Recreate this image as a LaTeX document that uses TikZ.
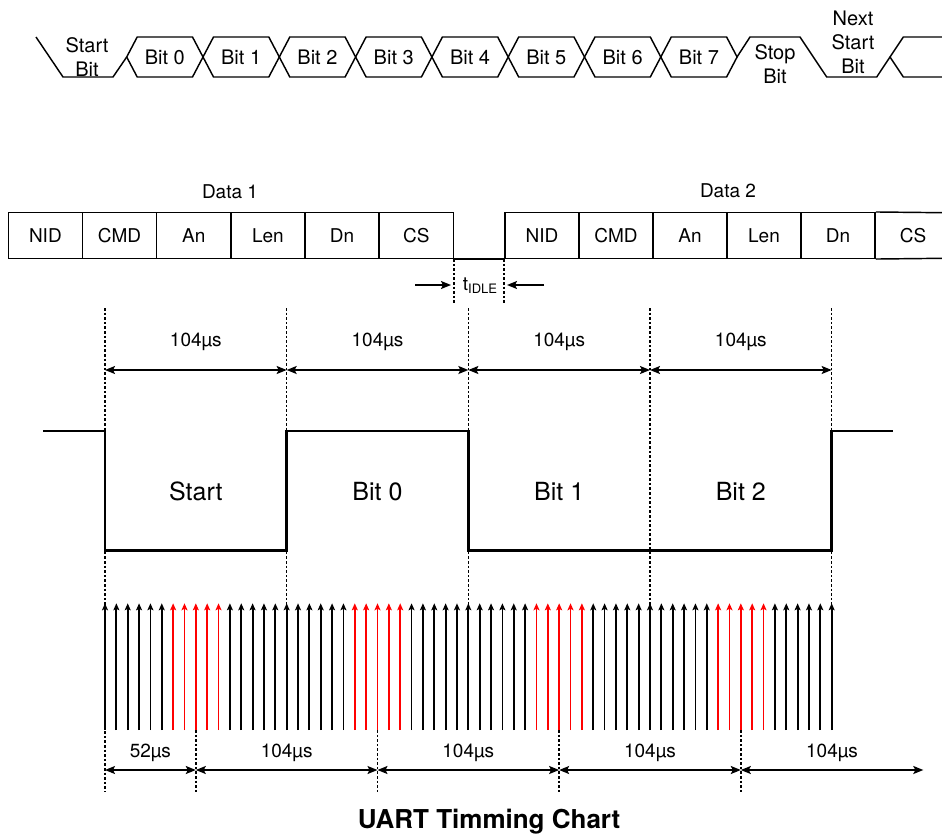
\documentclass[tikz,border=0pt]{standalone}
\usepackage{fontspec}
\setmainfont{TeX Gyre Heros}
\usetikzlibrary{arrows.meta,calc}
\begin{document}
\begin{tikzpicture}[x=1pt,y=-1pt,
  sig/.style={line width=1.45pt, line join=miter},
  toptxt/.style={font=\fontsize{20}{24}\selectfont, align=center, inner sep=0pt},
  lbl/.style={font=\fontsize{19}{22}\selectfont, inner sep=0pt},
  wlbl/.style={font=\fontsize{25}{30}\selectfont, inner sep=0pt},
  cell/.style={draw, line width=1.45pt, minimum width=74.17pt, minimum height=45.6pt, inner sep=0pt, font=\fontsize{19}{22}\selectfont},
  dotln/.style={line width=1.5pt, dash pattern=on 2.6pt off 2pt},
  dim/.style={line width=1.5pt, {Stealth[length=10pt,width=8pt,inset=2pt]}-{Stealth[length=10pt,width=8pt,inset=2pt]}},
  dimr/.style={line width=1.5pt, -{Stealth[length=10pt,width=8pt,inset=2pt]}},
  tick/.style={line width=1.8pt, -{Stealth[length=7pt,width=6pt,inset=1.5pt]}},
  wave/.style={line width=2.8pt, line join=miter},
  ttl/.style={font=\bfseries\fontsize{26}{30}\selectfont, inner sep=0pt}]
\useasboundingbox (0,0) rectangle (942,838);

% ---------- top bit frame ----------
\draw[sig] (36,37) -- (63,77) -- (113,77) -- (126.7,57);
\node[toptxt] (startbit) at (87,57) {Start\\Bit};
\foreach \i in {0,...,7}{
  \pgfmathsetmacro\L{126.7+76.3*\i}
  \pgfmathsetmacro\R{\L+76.3}
  \draw[sig] (\L,57) -- (\L+10.5,37) -- (\R-10.5,37) -- (\R,57) -- (\R-10.5,77) -- (\L+10.5,77) -- cycle;
  \node[toptxt] (bit\i) at (\L+38.15,57) {Bit \i};
}
\draw[sig] (737,57) -- (750,37) -- (800,37) -- (826.7,77) -- (876.7,77) -- (890,57);
\draw[sig] (942,37) -- (903.3,37) -- (890,57) -- (903.3,77) -- (942,77);
\node[toptxt] (stopbit) at (775,64) {Stop\\Bit};
\node[toptxt] (nextbit) at (853,42) {Next\\Start\\Bit};

% ---------- data frames ----------
\node[lbl] (data1) at (230,191.7) {Data 1};
\node[lbl] (data2) at (728,190.7) {Data 2};
\foreach \i/\t in {1/NID,2/CMD,3/An,4/Len,5/Dn,6/CS}{
  \node[cell] (a\i) at (8.3+74.17*\i-37.08,235.5) {\t};
}
\foreach \i/\t in {1/NID,2/CMD,3/An,4/Len,5/Dn}{
  \node[cell] (c\i) at (505+74.0*\i-37.0,235.5) {\t};
}
\coordinate (c6tl) at (942,212.7);
\coordinate (c6bl) at (942,258.3);
\draw[sig] (c5.north east) -- (c6tl);
\draw[sig] (c5.south east) -- (c6bl);
\node[lbl] (c6) at (913,235.5) {CS};
\draw[sig] (a6.south east) -- (c1.south west);

% t_IDLE
\draw[dotln] (a6.south east) -- ++(0,45) coordinate (idl);
\draw[dotln] (c1.south west) -- ++(0,45) coordinate (idr);
\node[lbl] (tidle) at (480,286) {t\raisebox{-3pt}{\fontsize{13}{13}\selectfont IDLE}};
\coordinate (tl0) at (415,285);
\coordinate (tl1) at (451,285);
\coordinate (tr0) at (544,285);
\coordinate (tr1) at (507,285);
\draw[dimr] (tl0) -- (tl1);
\draw[dimr] (tr0) -- (tr1);

% ---------- waveform ----------
\foreach \j in {0,...,4}{
  \coordinate (gt\j) at (105+181.667*\j,308);
  \coordinate (gd\j) at (105+181.667*\j,370);
}
\coordinate (gb0) at (105,792);
\draw[dotln] (gt0) -- (gb0);
\foreach \j in {1,...,4}{
  \draw[dotln] (gt\j) -- (105+181.667*\j,730);
}
\foreach \j/\n in {0/1,1/2,2/3,3/4}{
  \draw[dim] (gd\j) -- (gd\n);
  \node[lbl] (tl\j) at ($(gd\j)!0.5!(gd\n)+(0,-28.3)$) {104µs};
}
\coordinate (w0) at (43.3,431);
\coordinate (w1) at (893.3,431);
\draw[wave] (w0) -- (105,431) -- (105,550.7) -- (286.7,550.7) -- (286.7,431)
  -- (468.3,431) -- (468.3,550.7) -- (831.7,550.7) -- (831.7,431) -- (w1);
\node[wlbl] (wstart) at (195.8,491.7) {Start};
\node[wlbl] (wb0) at (377.5,491.7) {Bit 0};
\node[wlbl] (wb1) at (559.2,491.7) {Bit 1};
\node[wlbl] (wb2) at (740.8,491.7) {Bit 2};

% ---------- sampling arrows ----------
\foreach \k in {0,...,64}{
  \pgfmathtruncatemacro\m{mod(\k,16)}
  \ifnum\m>5 \ifnum\m<11 \def\col{red}\else\def\col{black}\fi\else\def\col{black}\fi
  \coordinate (sb\k) at (105+11.3542*\k,730);
  \coordinate (st\k) at (105+11.3542*\k,603.3);
  \draw[tick, draw=\col] (sb\k) -- (st\k);
}

% ---------- bottom dimensions ----------
\coordinate (bs) at (105,770);
\foreach \j in {0,...,3}{
  \coordinate (bd\j) at (195.8+181.667*\j,770);
  \draw[dotln] (195.8+181.667*\j,730) -- (195.8+181.667*\j,792);
}
\coordinate (bend) at (923.3,770);
\draw[dim] (bs) -- (bd0);
\node[lbl] (l52) at ($(bs)!0.5!(bd0)+(0,-17)$) {52µs};
\foreach \j/\n in {0/1,1/2,2/3}{
  \draw[dim] (bd\j) -- (bd\n);
  \node[lbl] (bl\j) at ($(bd\j)!0.5!(bd\n)+(0,-17)$) {104µs};
}
\draw[dim] (bd3) -- (bend);
\node[lbl] (bl3) at (832,753) {104µs};

\node[ttl] (title) at (489,821.7) {UART Timming Chart};
\end{tikzpicture}
\end{document}
